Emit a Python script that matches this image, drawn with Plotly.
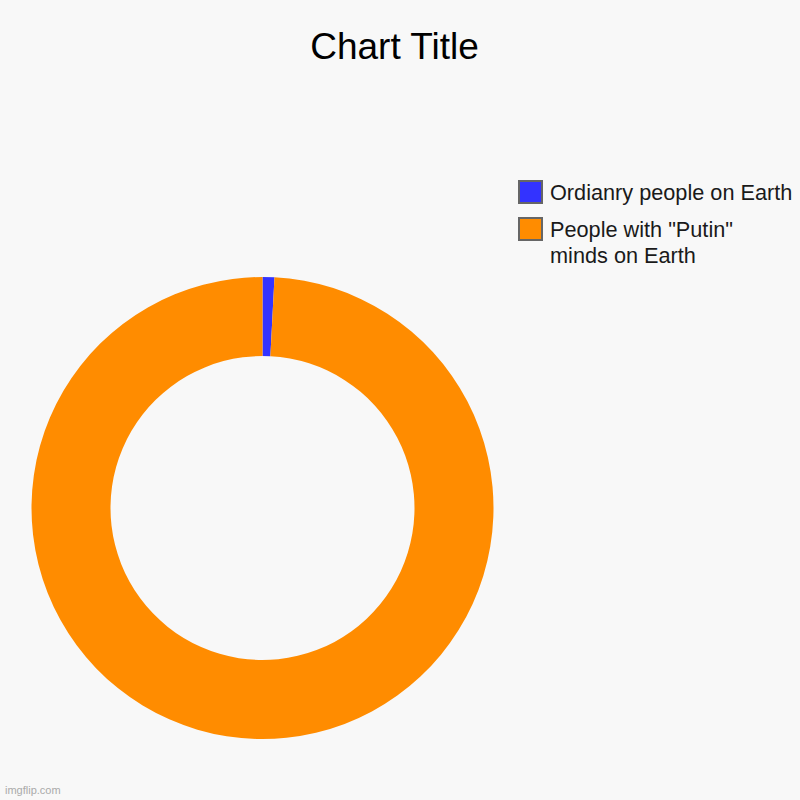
import plotly.graph_objects as go

# ---- data ----
labels = ["Ordianry people on Earth", 'People with "Putin" minds on Earth']
values = [1, 120]
colors = ["#3333ff", "#ff8c00"]
legend_lines = [["Ordianry people on Earth"], ['People with "Putin"', "minds on Earth"]]
title_text = "Chart Title"

W = H = 800
BG = "#f8f8f8"
FONT = "Liberation Sans, Arial, sans-serif"

def px(x):
    return x / W

def py(y):
    return (H - y) / H

cx, cy, r = 262.5, 508, 231

fig = go.Figure(go.Pie(
    labels=labels,
    values=values,
    hole=0.658,
    sort=False,
    direction="clockwise",
    rotation=0,
    marker=dict(colors=colors, line=dict(width=0)),
    textinfo="none",
    hoverinfo="label+percent",
    showlegend=False,
    domain=dict(x=[px(cx - r), px(cx + r)], y=[py(cy + r), py(cy - r)]),
))

shapes = []
annotations = []
box_tops = [181, 218]
for i, (col, lines) in enumerate(zip(colors, legend_lines)):
    top = box_tops[i]
    shapes.append(dict(
        type="rect", xref="paper", yref="paper",
        x0=px(519), x1=px(542), y0=py(top + 22), y1=py(top),
        fillcolor=col, line=dict(color="#666666", width=2),
    ))
    for j, line in enumerate(lines):
        annotations.append(dict(
            text=line, xref="paper", yref="paper",
            x=px(548), y=py(top + 11 + j * 26.7),
            xanchor="left", yanchor="middle", showarrow=False,
            font=dict(family=FONT, size=21.7, color="#1a1a1a"),
        ))

annotations.append(dict(
    text="imgflip.com", xref="paper", yref="paper",
    x=px(3), y=py(790), xanchor="left", yanchor="middle", showarrow=False,
    font=dict(family=FONT, size=11, color="#aaaaaa"),
))

fig.update_layout(
    width=W, height=H,
    margin=dict(l=0, r=0, t=0, b=0),
    paper_bgcolor=BG, plot_bgcolor=BG,
    title=dict(
        text=title_text, x=394.5 / W, xanchor="center",
        y=py(46), yref="container", yanchor="middle",
        font=dict(family=FONT, size=37, color="#000000"),
    ),
    shapes=shapes,
    annotations=annotations,
)

fig.write_html(
    "out.html",
    config={"displayModeBar": False},
    post_script="document.body.style.margin='0';document.body.style.padding='0';"
                "document.body.style.background='%s';" % BG,
)
